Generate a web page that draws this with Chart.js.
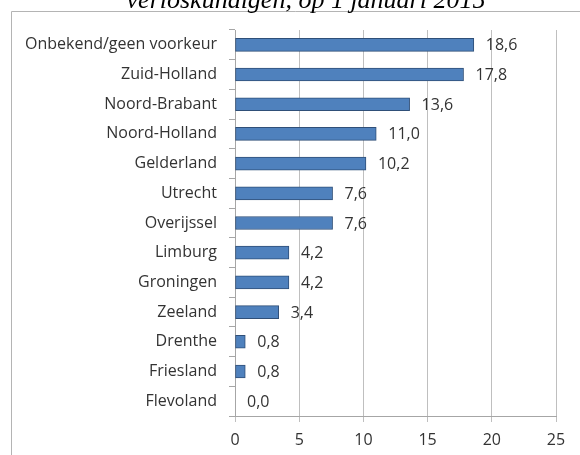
<!DOCTYPE html>
<html lang="nl">
  <head>
    <meta charset="UTF-8" />
    <title>Verloskundigen per provincie</title>
    <script src="https://cdn.jsdelivr.net/npm/chart.js"></script>
    <style>
      html, body { margin: 0; padding: 0; background: #fff; }
      #myChart { display: block; }
    </style>
  </head>
  <body>
    <canvas id="myChart" width="580" height="455"></canvas>
    <script>
      // categorieën en waarden (percentages)
      var provincies = [
        "Onbekend/geen voorkeur",
        "Zuid-Holland",
        "Noord-Brabant",
        "Noord-Holland",
        "Gelderland",
        "Utrecht",
        "Overijssel",
        "Limburg",
        "Groningen",
        "Zeeland",
        "Drenthe",
        "Friesland",
        "Flevoland",
      ];
      var percentages = [18.6, 17.8, 13.6, 11.0, 10.2, 7.6, 7.6, 4.2, 4.2, 3.4, 0.8, 0.8, 0.0];
      var xTicks = [0, 5, 10, 15, 20, 25];
      var titel = "verloskundigen, op 1 januari 2015";

      var labelFont = "'Open Sans', sans-serif";

      // kader en (afgesneden) titel
      var framePlugin = {
        id: "frame",
        beforeDraw: function (chart) {
          var ctx = chart.ctx;
          ctx.save();
          ctx.fillStyle = "#fff";
          ctx.fillRect(0, 0, chart.width, chart.height);
          ctx.strokeStyle = "#b4b4b4";
          ctx.lineWidth = 1;
          ctx.beginPath();
          ctx.moveTo(11.5, chart.height);
          ctx.lineTo(11.5, 11.5);
          ctx.lineTo(chart.width, 11.5);
          ctx.stroke();
          ctx.fillStyle = "#000";
          ctx.font = "italic 26px 'Liberation Serif', serif";
          ctx.textAlign = "center";
          ctx.textBaseline = "alphabetic";
          ctx.fillText(titel, 306, 8);
          ctx.restore();
        },
      };

      // waardelabels rechts van de balken
      var valuePlugin = {
        id: "values",
        afterDatasetsDraw: function (chart) {
          var ctx = chart.ctx;
          var meta = chart.getDatasetMeta(0);
          ctx.save();
          ctx.fillStyle = "#333";
          ctx.font = "16px " + labelFont;
          ctx.textAlign = "left";
          ctx.textBaseline = "middle";
          meta.data.forEach(function (bar, i) {
            var txt = percentages[i].toFixed(1).replace(".", ",");
            ctx.fillText(txt, bar.x + 12, bar.y + 1);
          });
          ctx.restore();
        },
      };

      var ctx = document.getElementById("myChart").getContext("2d");
      var myChart = new Chart(ctx, {
        type: "bar",
        data: {
          labels: provincies,
          datasets: [
            {
              data: percentages,
              backgroundColor: "#4f81bd",
              borderColor: "#2f4f78",
              borderWidth: 1,
              borderSkipped: false,
              barThickness: 13,
            },
          ],
        },
        options: {
          indexAxis: "y",
          responsive: false,
          maintainAspectRatio: false,
          animation: false,
          devicePixelRatio: 1,
          layout: { padding: { top: 30, right: 24, bottom: 0, left: 0 } },
          scales: {
            x: {
              min: 0,
              max: 25,
              afterBuildTicks: function (scale) {
                scale.ticks = xTicks.map(function (v) { return { value: v }; });
              },
              afterFit: function (scale) { scale.height = 39; },
              grid: { color: "#bfbfbf", tickLength: 6, drawTicks: true },
              border: { color: "#a6a6a6" },
              ticks: {
                color: "#333",
                font: { family: labelFont, size: 16 },
                padding: 9,
              },
            },
            y: {
              afterFit: function (scale) { scale.width = 235; },
              grid: { drawOnChartArea: false, color: "#a6a6a6", tickLength: 6, offset: true },
              border: { color: "#a6a6a6" },
              ticks: {
                color: "#333",
                font: { family: labelFont, size: 16 },
                padding: 12,
                autoSkip: false,
              },
            },
          },
          plugins: {
            legend: { display: false },
            tooltip: { enabled: false },
          },
        },
        plugins: [framePlugin, valuePlugin],
      });
    </script>
  </body>
</html>
